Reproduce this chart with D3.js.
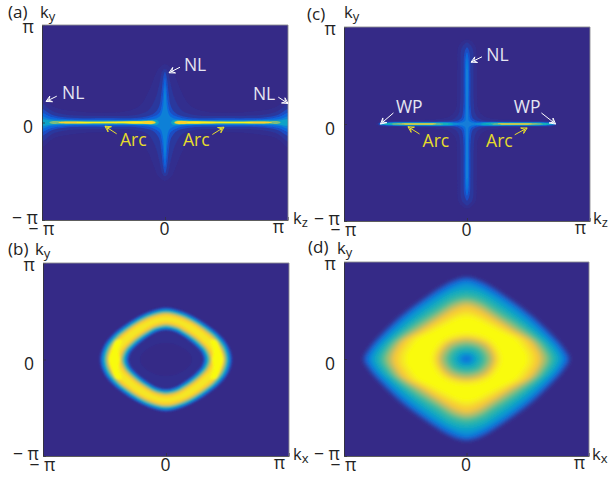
<!DOCTYPE html>
<html><head><meta charset="utf-8">
<style>html,body{margin:0;padding:0;background:#fff}svg{display:block}text{font-family:"Open Sans",sans-serif}</style>
<script src="https://cdnjs.cloudflare.com/ajax/libs/d3/7.8.5/d3.min.js"></script>
</head><body><svg id="c" width="611" height="479"></svg>
<script>
// ---- axis ticks (units of pi) ----
const tickValues = [-1, 0, 1];
const tickLabels = ["\u2212 \u03c0", "0", "\u03c0"];

// ---- colour map: intensity -> colour ----
const colorStops = [0, .1, .2, .3, .4, .5, .6, .7, .8, .9, 1];
const colorHex = ["#352a87","#0f5cdd","#127dd8","#079ccf","#15b1b4","#59bd8c","#a5be6b","#e1b952","#fcce2e","#f5e626","#f9fb0e"];

// ---- contour data: one quadrant [k/pi, k/pi] per intensity level ----
const panelAOuter = [
 {level:.008,pts:[[1.1,.3],[1,.26],[.9,.16],[.75,.12],[.5,.1],[.3,.12],[.2,.18],[.14,.3],[.1,.42],[.06,.54],[.03,.58],[0,.6]]},
 {level:.025,pts:[[1.1,.24],[1,.2],[.92,.12],[.8,.08],[.5,.07],[.25,.075],[.14,.12],[.08,.24],[.045,.4],[.02,.53],[0,.55]]},
 {level:.07, pts:[[1.1,.17],[1,.14],[.92,.08],[.8,.052],[.5,.045],[.22,.05],[.1,.085],[.05,.16],[.03,.3],[.016,.45],[0,.52]]},
 {level:.13, pts:[[1.1,.12],[1,.1],[.93,.06],[.8,.036],[.5,.032],[.2,.034],[.1,.058],[.045,.1],[.024,.2],[.012,.36],[0,.46]]},
 {level:.21, pts:[[1.1,.075],[1,.065],[.93,.036],[.8,.026],[.5,.024],[.2,.024],[.1,.034],[.04,.065],[.018,.14],[.008,.28],[0,.38]]}
];
const panelALobes = [
 {level:.33, pts:[[1.03,0],[1,.032],[.93,.022],[.7,.018],[.4,.018],[.12,.024],[.06,.02],[.05,0]]},
 {level:.55, pts:[[.94,0],[.92,.012],[.8,.011],[.5,.011],[.2,.015],[.09,.016],[.07,0]]},
 {level:.82, pts:[[.87,0],[.84,.007],[.5,.007],[.2,.012],[.1,.012],[.08,0]]},
 {level:.96, pts:[[.72,0],[.68,.005],[.4,.005],[.2,.006],[.17,0]]}
];
const panelCOuter = [
 {level:.008,pts:[[.74,0],[.72,.02],[.5,.04],[.25,.05],[.14,.08],[.09,.16],[.082,.3],[.08,.6],[.07,.8],[.03,.86],[0,.87]]},
 {level:.025,pts:[[.725,0],[.71,.016],[.5,.028],[.22,.032],[.11,.05],[.07,.1],[.055,.25],[.052,.55],[.045,.78],[.015,.83],[0,.84]]},
 {level:.07, pts:[[.72,0],[.7,.012],[.5,.02],[.2,.024],[.08,.034],[.045,.065],[.03,.18],[.028,.5],[.02,.74],[0,.79]]},
 {level:.14, pts:[[.715,0],[.69,.01],[.5,.016],[.18,.018],[.06,.024],[.03,.05],[.018,.15],[.017,.5],[.012,.68],[0,.74]]},
 {level:.2,  pts:[[.71,0],[.69,.006],[.3,.009],[.06,.012],[.018,.03],[.01,.12],[.009,.5],[.006,.62],[0,.68]]}
];
const panelCLobes = [
 {level:.24, pts:[[.71,0],[.69,.009],[.4,.016],[.1,.014],[.06,0]]},
 {level:.38, pts:[[.69,0],[.66,.007],[.4,.012],[.14,.009],[.11,0]]},
 {level:.6,  pts:[[.62,0],[.58,.006],[.4,.008],[.24,.006],[.19,0]]},
 {level:.85, pts:[[.53,0],[.5,.004],[.38,.005],[.28,.004],[.25,0]]}
];
// panel (b): polar radii of each level at these angles
const ringAngles = [0, 15, 30, 45, 60, 75, 90];
const panelBRing = [
 {level:.008,outer:[.549,.539,.518,.503,.508,.528,.549], inner:[.21,.205,.19,.18,.175,.172,.17]},
 {level:.07, outer:[.535,.525,.505,.49,.495,.515,.535], inner:[.305,.295,.278,.272,.277,.295,.305]},
 {level:.2,  outer:[.524,.514,.494,.48,.485,.504,.524], inner:[.317,.307,.289,.282,.288,.306,.317]},
 {level:.35, outer:[.51,.5,.481,.467,.472,.491,.51],    inner:[.33,.32,.302,.295,.3,.319,.33]},
 {level:.5,  outer:[.496,.486,.468,.454,.459,.478,.496],inner:[.344,.334,.315,.308,.313,.332,.344]},
 {level:.65, outer:[.485,.475,.457,.445,.45,.467,.485], inner:[.355,.345,.326,.317,.322,.343,.355]},
 {level:.8,  outer:[.47,.46,.443,.43,.435,.452,.47],    inner:[.37,.36,.34,.332,.337,.358,.37]},
 {level:.9,  outer:[.45,.44,.422,.41,.415,.43,.445],    inner:[.39,.38,.36,.352,.357,.38,.395]}
];
const panelBLobes = [
 {level:1, pts:[[.465,0],[.445,.09],[.405,.2],[.36,.2],[.385,.09],[.375,0]]}
];
// panel (d): nested diamond contours with a central hole
const panelDRing = [
 {level:.02, outer:[[.85,0],[.845,.03],[.82,.085],[.78,.155],[.555,.44],[.335,.645],[.165,.78],[.075,.83],[0,.85]], inner:null},
 {level:.12, outer:[[.83,0],[.825,.03],[.80,.08],[.76,.15],[.54,.425],[.325,.63],[.16,.765],[.07,.815],[0,.83]], inner:null},
 {level:.18, outer:[[.81,0],[.805,.03],[.78,.085],[.74,.15],[.53,.412],[.317,.615],[.155,.742],[.067,.792],[0,.81]], inner:null},
 {level:.25, outer:[[.79,0],[.785,.03],[.76,.085],[.72,.155],[.52,.40],[.31,.60],[.15,.72],[.065,.77],[0,.79]], inner:[[.04,0],[.028,.025],[0,.035]]},
 {level:.31, outer:[[.768,0],[.762,.035],[.74,.09],[.695,.16],[.50,.385],[.295,.577],[.145,.695],[.062,.737],[0,.752]], inner:[[.06,0],[.042,.037],[0,.052]]},
 {level:.38, outer:[[.745,0],[.738,.04],[.71,.095],[.665,.165],[.48,.37],[.28,.555],[.14,.67],[.06,.705],[0,.715]], inner:[[.08,0],[.056,.05],[0,.07]]},
 {level:.45, outer:[[.712,0],[.704,.04],[.675,.1],[.63,.17],[.455,.352],[.26,.522],[.13,.627],[.055,.66],[0,.67]], inner:[[.115,0],[.082,.075],[0,.105]]},
 {level:.52, outer:[[.68,0],[.67,.045],[.64,.105],[.6,.17],[.43,.335],[.24,.49],[.12,.585],[.05,.615],[0,.625]], inner:[[.15,0],[.105,.1],[0,.14]]},
 {level:.59, outer:[[.655,0],[.645,.05],[.615,.11],[.575,.175],[.41,.322],[.23,.47],[.115,.562],[.05,.592],[0,.602]], inner:[[.175,0],[.124,.113],[0,.16]]},
 {level:.66, outer:[[.63,0],[.62,.05],[.59,.115],[.55,.18],[.39,.31],[.22,.45],[.11,.54],[.05,.57],[0,.58]], inner:[[.2,0],[.14,.126],[0,.18]]},
 {level:.78, outer:[[.6,0],[.59,.055],[.56,.12],[.515,.19],[.37,.30],[.205,.43],[.1,.51],[.04,.54],[0,.55]], inner:[[.225,0],[.16,.149],[0,.21]]},
 {level:.9,  outer:[[.55,0],[.54,.06],[.505,.13],[.46,.2],[.33,.29],[.18,.40],[.085,.46],[.03,.485],[0,.49]], inner:[[.25,0],[.178,.163],[0,.23]]},
 {level:1,   outer:[[.5,0],[.49,.06],[.45,.135],[.41,.2],[.29,.28],[.16,.365],[.075,.42],[.03,.435],[0,.44]], inner:[[.28,0],[.2,.185],[0,.26]]}
];

// ---- annotations: label, text anchor, arrow tail, arrow tip (k/pi) ----
const annotationsA = [
 ["NL",[-.837,.236],[-.88,.27],[-.967,.216]],
 ["NL",[.154,.533],[.122,.567],[.033,.51]],
 ["NL",[.715,.226],[.921,.26],[1,.195]],
 ["Arc",[-.366,-.246],[-.393,-.116],[-.488,-.038]],
 ["Arc",[.146,-.246],[.385,-.123],[.48,-.048]]
];
const annotationsC = [
 ["NL",[.157,.654],[.122,.693],[.033,.637]],
 ["WP",[-.578,.114],[-.598,.114],[-.703,0]],
 ["WP",[.38,.114],[.605,.114],[.72,0]],
 ["Arc",[-.361,-.232],[-.386,-.103],[-.48,-.028]],
 ["Arc",[.155,-.232],[.388,-.111],[.489,-.041]]
];

// ---- drawing ----
const svg = d3.select("#c");
const color = d3.scaleLinear().domain(colorStops).range(colorHex);
const defs = svg.append("defs");

function closeQuadrant(q){           // mirror a first-quadrant list into a closed loop
  const b = q.slice().reverse().filter(p=>p[0]!==0).map(p=>[-p[0],p[1]]);
  const top = q.concat(b);
  const low = top.slice().reverse().filter(p=>p[1]!==0).map(p=>[p[0],-p[1]]);
  return top.concat(low);
}
function closeLobe(q,sign){          // mirror over the x axis only
  const low = q.slice().reverse().filter(p=>p[1]!==0).map(p=>[p[0],-p[1]]);
  return q.concat(low).map(p=>[sign*p[0],p[1]]);
}
const polar = r => r.map((v,i)=>{const t=ringAngles[i]*Math.PI/180;return [i===6?0:v*Math.cos(t), i===0?0:v*Math.sin(t)];});

function drawPanel(cfg,i){
  const x = d3.scaleLinear().domain([-1,1]).range([cfg.x0,cfg.x1]);
  const y = d3.scaleLinear().domain([-1,1]).range([cfg.y1,cfg.y0]);
  const line = d3.line().x(d=>x(d[0])).y(d=>y(d[1])).curve(d3.curveCatmullRomClosed.alpha(.5));
  const id = "p"+i;
  defs.append("clipPath").attr("id","clip"+id).append("rect")
    .attr("x",cfg.x0).attr("y",cfg.y0).attr("width",cfg.x1-cfg.x0).attr("height",cfg.y1-cfg.y0);
  defs.append("filter").attr("id","blur"+id).attr("filterUnits","userSpaceOnUse")
    .attr("x",cfg.x0-20).attr("y",cfg.y0-20).attr("width",cfg.x1-cfg.x0+40).attr("height",cfg.y1-cfg.y0+40)
    .append("feGaussianBlur").attr("stdDeviation",cfg.blur);
  const clip = svg.append("g").attr("clip-path",`url(#clip${id})`);
  const g = clip.append("g").attr("filter",`url(#blur${id})`);
  g.append("rect").attr("x",cfg.x0-20).attr("y",cfg.y0-20).attr("width",cfg.x1-cfg.x0+40).attr("height",cfg.y1-cfg.y0+40).attr("fill",color(0));

  (cfg.rings||[]).forEach(r=>{
    let d = line(closeQuadrant(r.outer));
    if(r.inner) d += line(closeQuadrant(r.inner));
    g.append("path").attr("d",d).attr("fill",color(r.level)).attr("fill-rule","evenodd");
  });
  (cfg.lobes||[]).forEach(l=>{
    [1,-1].forEach(s=>g.append("path").attr("d",line(closeLobe(l.pts,s))).attr("fill",color(l.level)));
  });

  // axes
  const yAxis = svg.append("g").attr("transform",`translate(${cfg.x0},0)`)
    .call(d3.axisLeft(y).tickValues(tickValues).tickFormat((d,k)=>tickLabels[k]).tickSizeInner(-3).tickSizeOuter(0));
  const xAxis = svg.append("g").attr("transform",`translate(0,${cfg.y1})`)
    .call(d3.axisBottom(x).tickValues(tickValues).tickFormat((d,k)=>tickLabels[k]).tickSizeInner(-3).tickSizeOuter(0));
  [xAxis,yAxis].forEach(a=>{
    a.select(".domain").attr("stroke","#333").attr("stroke-width",.8);
    a.selectAll("line").attr("stroke","#333").attr("stroke-width",.7);
    a.selectAll("text").attr("fill","#222").style("font-size","17.5px").style("font-family",'"Open Sans",sans-serif');
  });
  const yLab = [{x:-4,dy:3},{x:-9,dy:10},{x:-8,dy:7}];
  yAxis.selectAll("text").attr("x",(d,k)=>yLab[k].x).attr("dy",(d,k)=>yLab[k].dy).attr("text-anchor","end");
  const xLab = [{x:-1,y:15},{x:-1,y:15},{x:-10,y:13}];
  xAxis.selectAll("text").attr("x",(d,k)=>xLab[k].x).attr("y",(d,k)=>xLab[k].y).attr("dy",0).attr("text-anchor","middle");
  svg.append("path").attr("d",`M${cfg.x0},${cfg.y0}H${cfg.x1}V${cfg.y1}`).attr("fill","none").attr("stroke","#8d8d92").attr("stroke-width",.9);

  // labels
  svg.append("text").attr("x",cfg.tag[1]).attr("y",cfg.tag[2]).attr("fill","#222").style("font-size","17px").text(cfg.tag[0]);
  const sub=(px,py,s)=>{
    const t=svg.append("text").attr("x",px).attr("y",py).attr("fill","#222").style("font-size","16.5px");
    t.append("tspan").text("k");
    t.append("tspan").attr("dy",3).style("font-size","13px").text(s);
  };
  sub(cfg.ky[0],cfg.ky[1],"y");
  sub(cfg.kh[0],cfg.kh[1],cfg.kh[2]);

  // annotations
  (cfg.notes||[]).forEach(n=>{
    const c = n[0]==="Arc" ? "#ebe02b" : "#ffffff";
    const txt = n[0]==="Arc" ? "#e6dc2c" : "#e6e6f2";
    svg.append("text").attr("x",x(n[1][0])).attr("y",y(n[1][1])).attr("fill",txt).style("font-size","17.5px").text(n[0]);
    const tx=x(n[2][0]),ty=y(n[2][1]),hx=x(n[3][0]),hy=y(n[3][1]);
    const ang=Math.atan2(ty-hy,tx-hx), b=6.5;
    const bar=(s)=>[hx+b*Math.cos(ang+s),hy+b*Math.sin(ang+s)];
    const p1=bar(.5),p2=bar(-.5);
    const inner=[hx+3*Math.cos(ang),hy+3*Math.sin(ang)];
    svg.append("path").attr("d",`M${tx},${ty}L${hx},${hy}M${p1}L${hx},${hy}L${p2}M${p1}L${inner}L${p2}`)
      .attr("fill","none").attr("stroke",c).attr("stroke-width",1);
  });
}

const panels = [
 {x0:42,x1:288,y0:25,y1:220,blur:.6,rings:panelAOuter.map(d=>({level:d.level,outer:d.pts})),lobes:panelALobes,
  tag:["(a)",8,18],ky:[40,18],kh:[293,224,"z"],notes:annotationsA},
 {x0:43,x1:289,y0:263,y1:456,blur:1.1,
  rings:panelBRing.map(d=>({level:d.level,outer:polar(d.outer),inner:polar(d.inner)})),lobes:panelBLobes,
  tag:["(b)",8,255],ky:[35,255],kh:[293,460,"x"]},
 {x0:344,x1:590,y0:27,y1:221,blur:.6,rings:panelCOuter.map(d=>({level:d.level,outer:d.pts})),lobes:panelCLobes,
  tag:["(c)",307,20],ky:[344,18],kh:[593,224,"z"],notes:annotationsC},
 {x0:344,x1:589,y0:262,y1:456,blur:2,rings:panelDRing,
  tag:["(d)",308,253],ky:[337,254],kh:[592,460,"x"]}
];
panels.forEach(drawPanel);
</script></body></html>
